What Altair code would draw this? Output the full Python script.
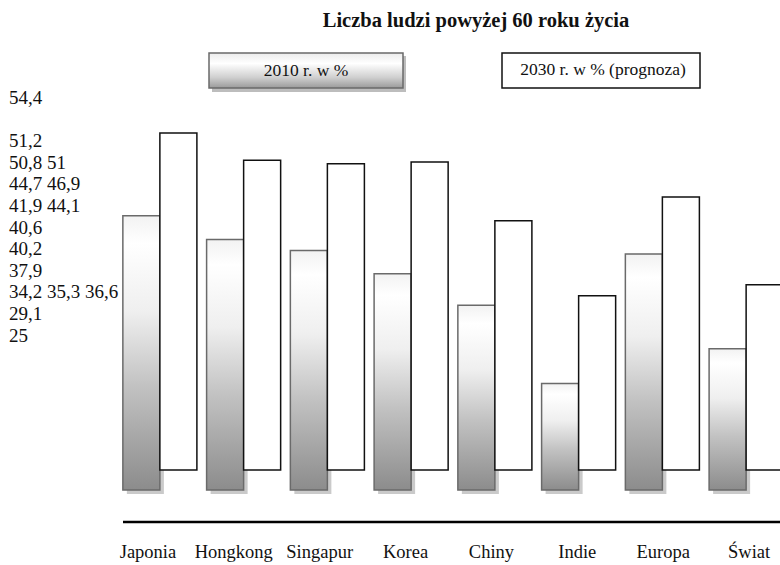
import altair as alt
import pandas as pd

categories = ["Japonia", "Hongkong", "Singapur", "Korea", "Chiny", "Indie", "Europa", "Świat"]
v2010 = [44.7, 41.9, 40.6, 37.9, 34.2, 25, 40.2, 29.1]
v2030 = [54.4, 51.2, 50.8, 51, 44.1, 35.3, 46.9, 36.6]
series = ["2010 r. w %", "2030 r. w % (prognoza)"]
title_text = "Liczba ludzi powyżej 60 roku życia"
# value labels as they appear stacked in the left column (empty row = gap)
value_rows = [[54.4], [], [51.2], [50.8, 51], [44.7, 46.9], [41.9, 44.1],
              [40.6], [40.2], [37.9], [34.2, 35.3, 36.6], [29.1], [25]]

FONT = "Liberation Serif"


def fmt(v):
    return f"{v:g}".replace(".", ",")


df = pd.DataFrame({
    "kat": categories * 2,
    "seria": [series[0]] * len(categories) + [series[1]] * len(categories),
    "wartosc": v2010 + v2030,
})
rows_df = pd.DataFrame({
    "row": list(range(len(value_rows))),
    "txt": [" ".join(fmt(v) for v in r) for r in value_rows],
})
cat_df = pd.DataFrame({"kat": categories})
one = pd.DataFrame({"a": [0]})


def xenc(shift=0):
    return alt.X("kat:N", sort=categories, axis=None,
                 scale=alt.Scale(range=[118 + shift, 788 + shift],
                                 paddingInner=0.116, paddingOuter=0.058))


xoff = alt.XOffset("seria:N", sort=series,
                   scale=alt.Scale(domain=series, paddingInner=0, paddingOuter=0))
yenc = alt.Y("wartosc:Q", axis=None, stack=None,
             scale=alt.Scale(domain=[0, 70], range=[596.7, 0]))

grad = alt.Gradient(
    gradient="linear",
    stops=[
        alt.GradientStop(color="#f2f2f2", offset=0),
        alt.GradientStop(color="#ffffff", offset=0.1),
        alt.GradientStop(color="#efefef", offset=0.35),
        alt.GradientStop(color="#c2c2c2", offset=0.62),
        alt.GradientStop(color="#8c8c8c", offset=1),
    ],
    x1=0, x2=0, y1=0, y2=1,
)

labels_left = alt.Chart(rows_df).transform_calculate(
    ypix="98 + 21.6 * datum.row"
).mark_text(align="left", baseline="middle", font=FONT, fontSize=19, color="#111111").encode(
    x=alt.value(9),
    y=alt.Y("ypix:Q", scale=None, axis=None),
    text="txt:N",
)

base = alt.Chart(df)

shadow = base.transform_filter(alt.datum.seria == series[0]).mark_bar(
    color="#cacaca"
).encode(x=xenc(4), xOffset=xoff, y=yenc, y2=alt.value(494))

bars10 = base.transform_filter(alt.datum.seria == series[0]).mark_bar(
    fill=grad, stroke="#6a6a6a", strokeWidth=1.5
).encode(x=xenc(), xOffset=xoff, y=yenc, y2=alt.value(490))

bars30 = base.transform_filter(alt.datum.seria == series[1]).mark_bar(
    fill="#ffffff", stroke="#111111", strokeWidth=1.5
).encode(x=xenc(), xOffset=xoff, y=yenc, y2=alt.value(470))

axis_line = alt.Chart(one).mark_rule(color="#000000", strokeWidth=2.5).encode(
    x=alt.value(123), x2=alt.value(780), y=alt.value(522)
)

cat_labels = alt.Chart(cat_df).mark_text(
    font=FONT, fontSize=18.5, color="#111111", baseline="middle"
).encode(
    x=alt.X("kat:N", sort=categories, axis=None,
            scale=alt.Scale(range=[105, 792], paddingInner=0, paddingOuter=0)),
    y=alt.value(552), text="kat:N",
)

title = alt.Chart(one).mark_text(
    text=title_text, font=FONT, fontSize=20.5, fontWeight="bold", color="#111111",
    align="center", baseline="middle"
).encode(x=alt.value(476), y=alt.value(21))

leg_grad = alt.Gradient(
    gradient="linear",
    stops=[
        alt.GradientStop(color="#ebebeb", offset=0),
        alt.GradientStop(color="#ffffff", offset=0.3),
        alt.GradientStop(color="#cfcfcf", offset=0.7),
        alt.GradientStop(color="#9a9a9a", offset=1),
    ],
    x1=0, x2=0, y1=0, y2=1,
)
leg1_shadow = alt.Chart(one).mark_rect(color="#bdbdbd").encode(
    x=alt.value(212), x2=alt.value(406), y=alt.value(56), y2=alt.value(92)
)
leg1 = alt.Chart(one).mark_rect(fill=leg_grad, stroke="#6a6a6a", strokeWidth=1.5).encode(
    x=alt.value(209), x2=alt.value(403), y=alt.value(53), y2=alt.value(88)
)
leg1_txt = alt.Chart(one).mark_text(
    text=series[0], font=FONT, fontSize=17.5, color="#111111", align="center", baseline="middle"
).encode(x=alt.value(306), y=alt.value(71))
leg2 = alt.Chart(one).mark_rect(fill="#ffffff", stroke="#111111", strokeWidth=1.5).encode(
    x=alt.value(502), x2=alt.value(700), y=alt.value(53), y2=alt.value(88)
)
leg2_txt = alt.Chart(one).mark_text(
    text=series[1], font=FONT, fontSize=17.5, color="#111111", align="center", baseline="middle"
).encode(x=alt.value(603), y=alt.value(70))

chart = alt.layer(
    labels_left, shadow, bars10, bars30, axis_line, cat_labels,
    title, leg1_shadow, leg1, leg1_txt, leg2, leg2_txt
).resolve_scale(y="independent", x="independent").properties(
    width=780, height=565, padding=0,
    autosize=alt.AutoSizeParams(type="none"),
    background="#ffffff",
).configure_view(stroke=None)

chart.save("out.html", embed_options={"renderer": "svg", "actions": False})
